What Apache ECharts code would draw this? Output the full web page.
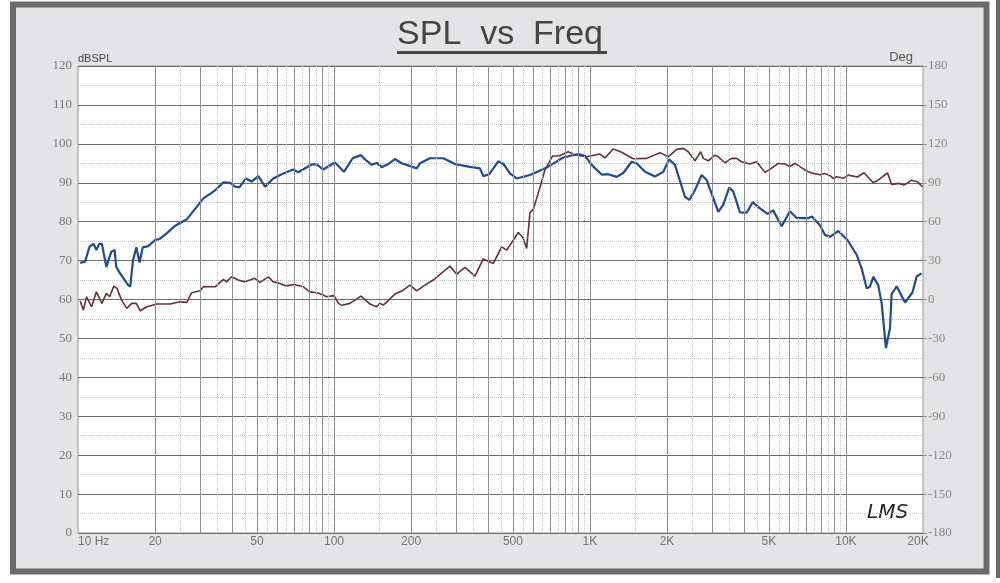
<!DOCTYPE html>
<html><head><meta charset="utf-8">
<script src="https://cdn.jsdelivr.net/npm/echarts@6/dist/echarts.min.js"></script>
<style>html,body{margin:0;padding:0;background:#fff}#c{width:1000px;height:583px}</style>
</head><body><div id="c"></div>
<script>
const splFreq=[10.2,10.65,11.1,11.5,11.8,12.1,12.4,12.9,13.1,13.5,
13.9,14.1,14.6,15.7,16.0,16.4,16.9,17.4,17.9,18.8,
20.0,20.8,22.2,23.9,26.6,29.1,30.9,33.8,37.0,39.3,
41.0,42.7,45.3,47.7,50.6,53.8,57.9,63.4,69.3,72.5,
81.8,85.6,90.8,100.9,109.4,118.3,127.2,132.2,140.4,146.9,
153.6,163,173.1,183.9,210.4,216.7,237.1,267.3,297,339.8,
371.8,383,404.3,438.4,458.5,487,517.3,583,677.4,786.5,
900.4,956.1,1015,1111,1179,1272,1349,1455,1522,1640,
1795,1934,2035,2148,2350,2443,2572,2731,2858,3171,
3316,3501,3629,3855,4094,4321,4615,4937,5200,5609,
6043,6435,7123,7365,7913,8279,8659,9331,10137,11010,
11516,12050,12410,12790,13370,13790,14330,14860,15080,15780,
17010,18190,18890,19760];
const splDb=[69.4,69.7,73.6,74.3,72.7,74.3,74.3,68.4,68.4,72.3,
72.7,68.4,66.7,63.7,63.3,70.1,73.4,69.5,73.4,73.7,
75.3,75.5,77,78.9,80.6,83.8,86,87.7,90.1,90,
89,88.8,91.1,90.3,91.7,89,91.1,92.4,93.4,92.7,
94.7,94.7,93.4,95.2,92.8,96.3,97.1,96,94.6,95.1,
94,94.8,96.1,95,93.7,95,96.3,96.3,94.8,94.1,
93.7,91.7,92.2,95.5,94.9,92.4,91.1,92,93.9,96.5,
97.4,96.9,94.6,92.1,92.2,91.5,92.5,95.4,95,92.8,
91.6,92.8,96,94.6,86.4,85.6,88.1,92,90.7,82.5,
84.3,88.8,87.7,82.4,82.3,85,83.4,82,82.9,78.8,
82.7,80.9,80.9,81.3,79.1,76.6,76.1,77.6,75.3,71.5,
68,62.9,63.3,65.8,63.7,59,47.5,52.6,61.4,63.4,
59.2,61.8,65.9,66.7];
const phaseFreq=[10.2,10.5,10.8,11.3,11.8,12.4,12.9,13.3,13.8,14.2,
14.8,15.5,16.2,16.9,17.5,18.6,20.3,22.9,25.0,26.6,
27.8,30.0,30.9,34.3,37.0,38.1,39.8,42.3,44.9,49.1,
51.4,55.4,57.9,60.6,65.3,70.0,75.9,80.6,86.8,93.7,
100,104,107.5,115.5,127.5,138.2,146.9,151.2,155.8,173.1,
183.9,198.2,210.4,226.7,244.3,267.3,283.9,301.6,325,355.5,
383,419.2,452,472.8,524.8,546,565.9,583,600.6,628.2,
667.2,713.9,756.9,822.8,866,970.7,1094,1145,1233,1330,
1476,1665,1877,2022,2182,2315,2421,2572,2707,2771,
2899,3078,3171,3368,3577,3741,3913,4217,4479,4827,
5048,5440,5778,6043,6321,7022,7454,7913,8279,8659,
8920,9198,9761,10210,11090,11760,12790,13370,14530,15080,
16110,16850,18060,19020,19900];
const phaseDeg=[-1.2,-8.2,2.1,-5.6,5.9,-3,4.7,2.1,10.3,8.6,
-0.5,-6.9,-3,-3,-8.7,-5.6,-3.5,-3.5,-1.8,-2.2,
5.2,6.7,9.8,9.8,15.5,13.6,17.5,15,13.6,16.3,
13.2,17.5,13.6,12.8,10.5,11.5,9.8,5.9,5,2.1,
3,-3,-4.5,-3,2.6,-3.5,-5.6,-3,-4.3,4.2,
6.5,11.1,6.7,11.1,15,21.4,25.8,19.5,24.7,18,
31.3,27.8,40.6,38.1,51.6,48,39.4,67,69.5,82,
100,110.6,110.6,113.9,111.7,110,112.1,109.2,116,113.5,
108.5,108.8,113.2,110,115.7,116.5,113.9,106.9,113.9,108.8,
106.9,111.3,110,105.4,108.8,108.8,106.2,104.4,106.2,98,
100.3,104.9,104.4,102.5,104.9,99,97.2,96.2,97.2,95.5,
93.4,94.6,93.4,95.9,94.4,97.7,90,92,97.7,88.6,
89.5,88.2,92,90.7,86.9];
const xTickValues=[10,20,50,100,200,500,1000,2000,5000,10000,20000];
const xTickLabels=['10 Hz','20','50','100','200','500','1K','2K','5K','10K','20K'];
const majorGridFreqs=[20,30,40,50,60,70,80,90,100,200,300,400,500,600,700,800,900,1000,2000,3000,4000,5000,6000,7000,8000,9000,10000];
const minorGridFreqs=[25,35,45,55,65,75,85,95,150,250,350,450,550,650,750,850,950,1500,2500,3500,4500,5500,6500,7500,8500,9500];

const chart=echarts.init(document.getElementById('c'),null,{renderer:'canvas'});
const lastIdx=xTickValues.length-1;
const option={
  animation:false,
  backgroundColor:'#ffffff',
  graphic:[
    {type:'rect',z:-1,silent:true,shape:{x:13,y:4.5,width:973.5,height:567},style:{fill:'#e4e3e6',stroke:'#6a6a6a',lineWidth:6}},
    {type:'rect',z:-1,silent:true,shape:{x:996,y:0,width:4,height:578},style:{fill:'#6a6a6a'}},
    {type:'rect',silent:true,shape:{x:397,y:51,width:210,height:3},style:{fill:'#474747'}},
    {type:'text',silent:true,x:867,y:513,style:{text:'LMS',font:'italic 20px "DejaVu Sans"',fill:'#222',verticalAlign:'middle'}}
  ],
  title:{text:'SPL  vs  Freq',left:'center',top:13,textStyle:{fontFamily:'Liberation Sans',fontSize:34,fontWeight:'normal',color:'#444'}},
  grid:{left:78,right:77,top:66,bottom:50,show:true,backgroundColor:'#ffffff',borderColor:'#999',borderWidth:1},
  xAxis:{type:'log',logBase:10,min:10,max:20000,axisLine:{show:false},axisTick:{show:false},axisLabel:{show:false},splitLine:{show:false},minorSplitLine:{show:false}},
  yAxis:[
    {type:'value',min:0,max:120,interval:10,name:'dBSPL',nameLocation:'end',nameGap:7,
     nameTextStyle:{align:'left',verticalAlign:'middle',fontFamily:'Liberation Sans',fontSize:11,color:'#444'},
     axisLine:{show:false},axisTick:{show:false},
     axisLabel:{fontFamily:'Liberation Serif',fontSize:13,color:'#777',margin:6},
     splitLine:{show:true,lineStyle:{color:'#6e6e6e',width:1}},
     minorTick:{show:false,splitNumber:2},
     minorSplitLine:{show:true,lineStyle:{color:'#c4c4c4',type:'dotted',width:1}}},
    {type:'value',position:'right',min:-180,max:180,interval:30,name:'Deg',nameLocation:'end',nameGap:9,
     nameTextStyle:{align:'right',verticalAlign:'middle',padding:[0,10,0,0],fontFamily:'Liberation Sans',fontSize:13,color:'#555'},
     axisLine:{show:false},axisTick:{show:true,length:4,lineStyle:{color:'#999'}},
     axisLabel:{fontFamily:'Liberation Serif',fontSize:13,color:'#888',margin:5},
     splitLine:{show:false}}
  ],
  series:[
    {type:'scatter',name:'ticks',z:1,silent:true,clip:false,symbolSize:0,
     data:xTickValues.map((v,i)=>({value:[v,0],label:{align:i===0?'left':'center',offset:i===lastIdx?[-5,0]:[0,0]}})),
     label:{show:true,position:'bottom',distance:3,formatter:p=>xTickLabels[p.dataIndex],fontFamily:'Liberation Sans',fontSize:12,color:'#555'},
     markLine:{silent:true,symbol:['none','none'],label:{show:false},animation:false,
       data:[...majorGridFreqs.map(f=>({xAxis:f,lineStyle:{color:'#8f8f8f',width:1,type:'solid'}})),
             ...minorGridFreqs.map(f=>({xAxis:f,lineStyle:{color:'#c4c4c4',width:1,type:'dotted'}}))]}},
    {type:'line',name:'Phase',yAxisIndex:1,z:3,symbol:'none',
     data:phaseFreq.map((f,i)=>[f,phaseDeg[i]]),lineStyle:{color:'#6b2e35',width:1.6}},
    {type:'line',name:'SPL',yAxisIndex:0,z:4,symbol:'none',
     data:splFreq.map((f,i)=>[f,splDb[i]]),lineStyle:{color:'#1d4b9b',width:2.2}}
  ]
};
chart.setOption(option);
</script></body></html>
